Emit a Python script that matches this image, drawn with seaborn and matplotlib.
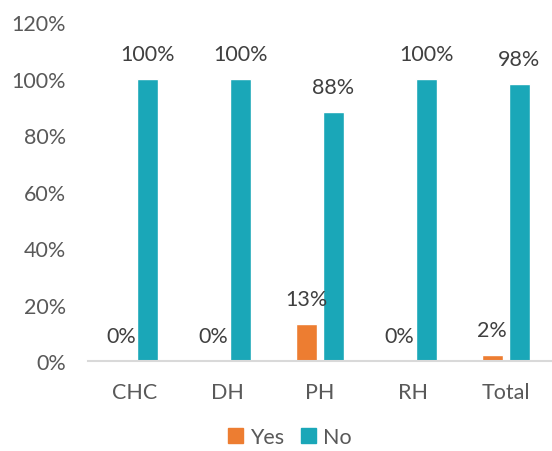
import numpy as np
import pandas as pd
import matplotlib.pyplot as plt
import seaborn as sns

categories = ["CHC", "DH", "PH", "RH", "Total"]
yes_vals = [0, 0, 13, 0, 2]
no_vals = [100, 100, 88, 100, 98]
series = ["Yes", "No"]
y_ticks = [0, 20, 40, 60, 80, 100, 120]

df = pd.DataFrame({
    "Site": categories * 2,
    "Answer": ["Yes"] * len(categories) + ["No"] * len(categories),
    "Pct": yes_vals + no_vals,
})

sns.set_theme(style="white")
plt.rcParams["font.family"] = ["Lato", "DejaVu Sans"]
text_color = "#595959"
palette = {"Yes": "#ED7D31", "No": "#1AA7B8"}
fs = 15.5

fig = plt.figure(figsize=(5.52, 4.52), dpi=100)
ax = fig.add_axes([0.1594, 0.199, 0.8406, 0.75])

sns.barplot(data=df, x="Site", y="Pct", hue="Answer", hue_order=series,
            palette=palette, width=0.58, gap=0.22, saturation=1,
            ax=ax, legend=False)

ax.set_xlim(-0.5, 4.5)
ax.set_ylim(0, 120)
ax.set_yticks(y_ticks)
ax.set_yticklabels([f"{t}%" for t in y_ticks])
ax.set_xlabel("")
ax.set_ylabel("")
ax.tick_params(axis="both", length=0, labelsize=fs, colors=text_color)
ax.tick_params(axis="x", pad=15)
ax.tick_params(axis="y", pad=16)

for s in ["top", "right", "left"]:
    ax.spines[s].set_visible(False)
ax.spines["bottom"].set_color("#D9D9D9")
ax.spines["bottom"].set_linewidth(1.5)

# data labels above each bar
for container, vals in zip(ax.containers, [yes_vals, no_vals]):
    for bar, v in zip(container, vals):
        x = bar.get_x() + bar.get_width() / 2
        ax.annotate(f"{v}%", (x, bar.get_height()), xytext=(0, 25),
                    textcoords="offset pixels", ha="center", va="center",
                    fontsize=fs, color="#404040")

handles = [plt.Rectangle((0, 0), 1, 1, color=palette[s]) for s in series]
fig.legend(handles, series, loc="center", bbox_to_anchor=(0.525, 0.03),
           ncol=2, frameon=False, fontsize=fs, labelcolor=text_color,
           handlelength=0.7, handleheight=0.7, handletextpad=0.3,
           columnspacing=0.8)

fig.savefig("out.png", dpi=100)
